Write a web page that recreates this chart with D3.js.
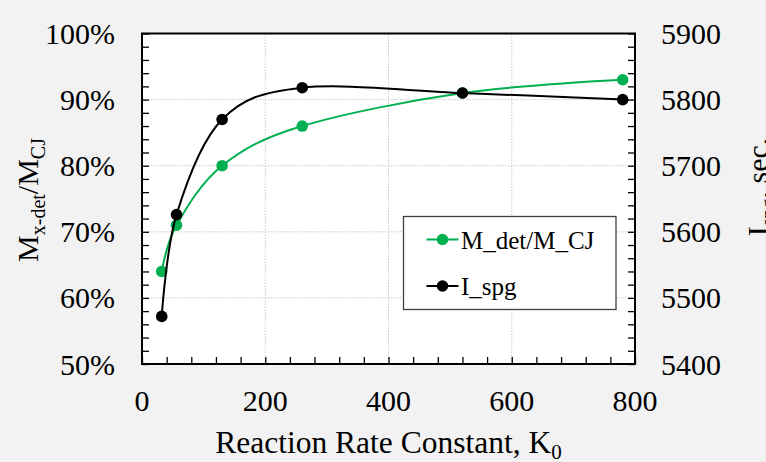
<!DOCTYPE html>
<html><head><meta charset="utf-8">
<script src="https://cdn.jsdelivr.net/npm/d3@7"></script>
<style>
html,body{margin:0;padding:0;background:#f2f2f2;}
text{font-family:"Liberation Serif","Times New Roman",serif;fill:#000;}
</style></head>
<body>
<script>
// Data
const kValues = [32, 56, 130, 260, 520, 780];
const machRatio = [64, 71, 80, 86, 91, 93];          // %
const ispgValues = [5472, 5626, 5770, 5818, 5810, 5800]; // sec
const xTicks = [0, 200, 400, 600, 800];
const yLeftTicks = [50, 60, 70, 80, 90, 100];
const yRightTicks = [5400, 5500, 5600, 5700, 5800, 5900];
const seriesNames = ["M_det/M_CJ", "I_spg"];
const seriesColors = ["#00b050", "#000000"];

const W = 766, H = 462;
const L = 142, R = 635, T = 33.5, B = 364;
const fs = 30;

const svg = d3.select("body").append("svg").attr("width", W).attr("height", H);
svg.append("rect").attr("width", W).attr("height", H).attr("fill", "#f2f2f2");

const x = d3.scaleLinear().domain([0, 800]).range([L, R]);
const yL = d3.scaleLinear().domain([50, 100]).range([B, T]);
const yR = d3.scaleLinear().domain([5400, 5900]).range([B, T]);

svg.append("rect").attr("x", L).attr("y", T).attr("width", R - L).attr("height", B - T).attr("fill", "#fff");

// gridlines
const grid = svg.append("g").attr("stroke", "#c8c8c8").attr("stroke-width", 1).attr("stroke-dasharray", "1.5,1.5");
[200, 400, 600].forEach(v => grid.append("line").attr("x1", x(v)).attr("x2", x(v)).attr("y1", T).attr("y2", B));
[60, 70, 80, 90].forEach(v => grid.append("line").attr("y1", yL(v)).attr("y2", yL(v)).attr("x1", L).attr("x2", R));

// axes with inward ticks
const tickLen = 7;
const gx = svg.append("g").attr("transform", `translate(0,${B})`)
  .call(d3.axisBottom(x).tickValues(d3.range(0, 801, 40)).tickSize(-tickLen).tickFormat(""));
const gl = svg.append("g").attr("transform", `translate(${L},0)`)
  .call(d3.axisLeft(yL).tickValues(d3.range(50, 100.1, 2)).tickSize(-tickLen).tickFormat(""));
const gr = svg.append("g").attr("transform", `translate(${R},0)`)
  .call(d3.axisRight(yR).tickValues(d3.range(5400, 5901, 20)).tickSize(-tickLen).tickFormat(""));
[gx, gl, gr].forEach(g => { g.select(".domain").remove(); g.selectAll("line").attr("stroke", "#000").attr("stroke-width", 1.3); });

// frame
svg.append("rect").attr("x", L).attr("y", T).attr("width", R - L).attr("height", B - T)
  .attr("fill", "none").attr("stroke", "#000").attr("stroke-width", 2);

// tick labels
svg.append("g").selectAll("text").data(xTicks).join("text")
  .attr("x", d => x(d)).attr("y", 411).attr("text-anchor", "middle").attr("font-size", fs).text(d => d);
svg.append("g").selectAll("text").data(yLeftTicks).join("text")
  .attr("x", 115).attr("y", d => yL(d)).attr("dy", "0.35em").attr("text-anchor", "end").attr("font-size", fs).text(d => d + "%");
svg.append("g").selectAll("text").data(yRightTicks).join("text")
  .attr("x", 661).attr("y", d => yR(d)).attr("dy", "0.35em").attr("text-anchor", "start").attr("font-size", fs).text(d => d);

// axis titles
const xt = svg.append("text").attr("x", (L + R) / 2).attr("y", 453).attr("text-anchor", "middle").attr("font-size", 31.5);
xt.append("tspan").text("Reaction Rate Constant, K");
xt.append("tspan").attr("font-size", 21).attr("dy", 6).text("0");

const lt = svg.append("text").attr("transform", `translate(38,200) rotate(-90)`).attr("text-anchor", "middle").attr("font-size", fs);
lt.append("tspan").text("M");
lt.append("tspan").attr("font-size", 20).attr("dy", 7).text("x-det");
lt.append("tspan").attr("dy", -7).text("/M");
lt.append("tspan").attr("font-size", 20).attr("dy", 7).text("CJ");

const rt = svg.append("text").attr("transform", `translate(768,187) rotate(-90)`).attr("text-anchor", "middle").attr("font-size", fs);
rt.append("tspan").text("I");
rt.append("tspan").attr("font-size", 20).attr("dy", 7).text("spg");
rt.append("tspan").attr("dy", -7).text(", sec.");

// series
const curve = d3.curveCardinal.tension(0);
const mData = kValues.map((k, i) => [x(k), yL(machRatio[i])]);
const iData = kValues.map((k, i) => [x(k), yR(ispgValues[i])]);
const line = d3.line().curve(curve);
[[mData, seriesColors[0]], [iData, seriesColors[1]]].forEach(([d, c]) => {
  svg.append("path").attr("d", line(d)).attr("fill", "none").attr("stroke", c).attr("stroke-width", 2);
  svg.append("g").selectAll("circle").data(d).join("circle")
    .attr("cx", p => p[0]).attr("cy", p => p[1]).attr("r", 5.8).attr("fill", c);
});

// legend
const lg = svg.append("g");
lg.append("rect").attr("x", 403.5).attr("y", 216.5).attr("width", 212.5).attr("height", 93)
  .attr("fill", "#fff").attr("stroke", "#404040").attr("stroke-width", 1.3);
const legY = [239.5, 286];
seriesNames.forEach((n, i) => {
  lg.append("line").attr("x1", 426.5).attr("x2", 458.5).attr("y1", legY[i]).attr("y2", legY[i])
    .attr("stroke", seriesColors[i]).attr("stroke-width", 2);
  lg.append("circle").attr("cx", 442.5).attr("cy", legY[i]).attr("r", 5.8).attr("fill", seriesColors[i]);
  lg.append("text").attr("x", 461).attr("y", legY[i] + 9).attr("font-size", 25).text(n);
});
</script>
</body></html>
